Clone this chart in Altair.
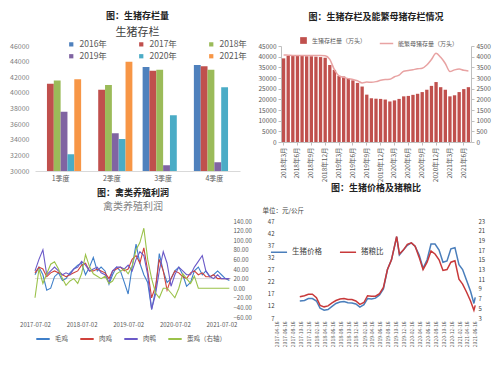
import altair as alt
import pandas as pd

FONT = "Noto Sans CJK SC"

# ---------------- Top-left: 生猪存栏 (quarterly) ----------------
quarters = ["1季度", "2季度", "3季度", "4季度"]
years = ["2016年", "2017年", "2018年", "2019年", "2020年", "2021年"]
inv_2016 = [None, None, 43320, 43560]
inv_2017 = [41170, 40400, 42830, 43400]
inv_2018 = [41580, 41010, 42960, 42960]
inv_2019 = [37570, 34820, 30730, 31130]
inv_2020 = [32150, 34090, 37130, 40730]
inv_2021 = [41740, 43970, None, None]
year_colors = ["#4F81BD", "#C0504D", "#9BBB59", "#8064A2", "#4BACC6", "#F79646"]

rows = []
for yname, vals in zip(years, [inv_2016, inv_2017, inv_2018, inv_2019, inv_2020, inv_2021]):
    for q, v in zip(quarters, vals):
        if v is not None:
            rows.append({"quarter": q, "year": yname, "value": v})
tl_df = pd.DataFrame(rows)

tl = alt.Chart(tl_df).mark_bar(clip=True).encode(
    x=alt.X("quarter:N", sort=quarters,
            scale=alt.Scale(paddingInner=0.2, paddingOuter=0.1),
            axis=alt.Axis(title=None, labelAngle=0, ticks=False, domainColor="#d9d9d9",
                          labelFontSize=7, labelColor="#595959", labelFont=FONT, labelPadding=3)),
    xOffset=alt.XOffset("year:N", sort=years, scale=alt.Scale(domain=years, paddingInner=0)),
    y=alt.Y("value:Q", scale=alt.Scale(domain=[30000, 46000], zero=False, nice=False),
            axis=alt.Axis(title=None, values=list(range(30000, 46001, 2000)), grid=False,
                          domain=False, ticks=False, labelFontSize=7, labelColor="#7f7f7f",
                          format="d", labelPadding=6)),
    color=alt.Color("year:N", sort=years,
                    scale=alt.Scale(domain=years, range=year_colors),
                    legend=alt.Legend(title=None, orient="none", legendX=32, legendY=-6,
                                      direction="horizontal", columns=3, columnPadding=30,
                                      rowPadding=3, symbolType="square", symbolSize=18,
                                      labelFontSize=8.5, labelColor="#595959", labelFont=FONT)),
).properties(
    width=205, height=125,
    title=alt.TitleParams(text="图：生猪存栏量", subtitle="生猪存栏", fontSize=9, subtitleFontSize=11,
                          font=FONT, subtitleFont=FONT, color="#222", subtitleColor="#404040",
                          anchor="middle", subtitlePadding=6, offset=2),
)

# ---------------- Top-right: 生猪存栏及能繁母猪存栏 ----------------
month_labels = []
for y in range(2018, 2022):
    for m in range(1, 13):
        if (y == 2018 and m < 3) or (y == 2021 and m > 7):
            continue
        month_labels.append(f"{y}年{m}月")
hog_inventory = [39200, 40400, 40300, 40300, 40300, 40200, 40200, 40000, 39800, 39500,
                 36100, 33800, 31000, 30700, 29800, 28900, 27700, 26000, 22200, 20500,
                 20300, 20200, 19900, 19000, 19500, 20200, 21400, 21600, 22100, 22600,
                 23400, 24500, 26300, 28100, 25700, 24500, 21400, 21900, 23400, 24800,
                 25700]
sow_inventory = [4080, 4070, 4060, 4060, 4050, 4050, 4050, 4050, 4050, 4040,
                 3870, 3390, 3100, 3030, 2970, 2930, 2870, 2770, 2810, 2800,
                 2830, 2890, 2930, 2940, 3060, 3130, 3320, 3350, 3390, 3430,
                 3460, 3610, 3870, 4160, 3970, 3680, 3300, 3380, 3420, 3360,
                 3330]
tr_df = pd.DataFrame({"month": month_labels, "hog": hog_inventory, "sow": sow_inventory})
tick_months = [m for i, m in enumerate(month_labels) if i % 3 == 0]

tr_x = alt.X("month:N", sort=month_labels, scale=alt.Scale(paddingInner=0.28, paddingOuter=0.2),
             axis=alt.Axis(title=None, values=tick_months, labelAngle=-90, labelFontSize=6.5,
                           labelColor="#595959", domainColor="#bfbfbf", tickColor="#bfbfbf",
                           tickSize=3, labelFont=FONT))
tr_bar = alt.Chart(tr_df).mark_bar(color="#C0504D").encode(
    x=tr_x,
    y=alt.Y("hog:Q", scale=alt.Scale(domain=[0, 45000], nice=False),
            axis=alt.Axis(title=None, values=list(range(0, 45001, 5000)), grid=False,
                          labelFontSize=6.5, labelColor="#595959", domainColor="#bfbfbf",
                          tickColor="#bfbfbf", tickSize=3, format="d")),
    fill=alt.Fill("lbl:N", scale=alt.Scale(range=["#C0504D"]),
                  legend=alt.Legend(title=None, orient="none", legendX=18, legendY=-10,
                                    symbolType="square", symbolSize=45, labelFontSize=6,
                                    labelColor="#595959", labelFont=FONT)),
).transform_calculate(lbl="'生猪存栏量（万头）'")
tr_line = alt.Chart(tr_df).mark_line(interpolate="monotone", strokeWidth=1.5).encode(
    x=tr_x,
    y=alt.Y("sow:Q", scale=alt.Scale(domain=[0, 4500], nice=False),
            axis=alt.Axis(title=None, orient="right", values=list(range(0, 4501, 500)), grid=False,
                          labelFontSize=6.5, labelColor="#595959", domainColor="#bfbfbf",
                          tickColor="#bfbfbf", tickSize=3, format="d")),
    stroke=alt.Stroke("lbl:N", scale=alt.Scale(range=["#E8A3A3"]),
                      legend=alt.Legend(title=None, orient="none", legendX=98, legendY=-10,
                                        symbolType="stroke", symbolSize=180, symbolStrokeWidth=1.5,
                                        labelFontSize=6, labelColor="#595959", labelFont=FONT)),
).transform_calculate(lbl="'能繁母猪存量（万头）'")
tr = alt.layer(tr_bar, tr_line).resolve_scale(y="independent").properties(
    width=190, height=96,
    title=alt.TitleParams(text="图：生猪存栏及能繁母猪存栏情况", fontSize=9, font=FONT,
                          color="#222", anchor="middle", offset=14),
)

# ---------------- Bottom-left: 禽类养殖利润 ----------------
poultry_dates = [f"{2017 + (6 + i) // 12}-{(6 + i) % 12 + 1:02d}-02T00:00:00" for i in range(51)]
broiler_live = [1.0, 3.0, 1.0, -3.0, -2.5, 0.5, 1.5, -0.5, 0.0, 1.5, 2.5, 3.5,
                4.0, 1.0, 3.0, 5.5, 2.0, 3.0, 2.0, -1.5, 1.0, 3.0, 2.0, -1.0,
                -4.0, 3.0, 9.0, 4.0, 1.0, -1.0, -8.0, -3.0, 6.5, 2.0, -1.0, 0.0,
                2.0, 3.0, 1.0, -2.0, -1.0, 2.0, 3.0, 1.0, 2.0, 0.5, 1.0, 2.0,
                1.0, 0.0, -0.5]
broiler_meat = [1.5, 3.0, 2.5, 0.5, 1.5, 2.0, 1.5, 1.0, 0.5, 1.0, 1.5, 2.0,
                3.5, 4.0, 2.0, 2.0, 2.5, 2.0, 1.5, 0.0, 2.0, 2.5, 3.0, 2.0,
                2.5, 5.0, 6.0, 4.0, 8.0, 2.0, -5.0, -2.0, 5.0, 2.0, -3.0, 0.0,
                2.0, 1.5, 0.5, 0.0, 1.5, 2.0, 1.0, 1.5, 0.5, 0.5, 1.0, 0.0,
                0.0, 0.0, 0.0]
duck_meat = [2.0, 5.0, 7.5, 1.0, 2.0, 3.0, 2.0, 1.0, 1.5, 1.0, 2.5, 3.0,
             4.5, 3.5, 2.0, 2.5, 3.0, 1.5, 1.0, -1.0, 2.0, 3.0, 3.0, 2.5,
             3.5, 2.0, 5.0, 7.0, 6.0, 1.0, -8.0, -4.0, 2.0, 7.0, 4.0, -2.0,
             1.0, 3.0, 2.0, 1.0, 1.0, 3.0, 4.5, 6.0, 2.0, 0.5, 0.0, 1.0,
             0.0, 0.0, 0.0]
layer_hen = [-20.0, 40.0, 10.0, 30.0, 50.0, 55.0, 40.0, 20.0, 6.0, 15.0, 20.0, 10.0,
             30.0, 70.0, 45.0, 30.0, 25.0, 20.0, 25.0, 10.0, 15.0, 30.0, 35.0, 40.0,
             30.0, 45.0, 80.0, 95.0, 125.0, 60.0, 20.0, -10.0, -20.0, 0.0, 0.0, -10.0,
             -20.0, 0.0, 30.0, 20.0, 10.0, 25.0, 0.0, 0.0, 0.0, 0.0, 0.0, 0.0,
             0.0, 0.0, 0.0]
poultry_series = ["毛鸡", "肉鸡", "肉鸭", "蛋鸡（右轴）"]
poultry_colors = ["#3F7FC9", "#D0413B", "#6B5AC8", "#9BC24A"]

bl_left_rows = []
for name, vals in zip(poultry_series[:3], [broiler_live, broiler_meat, duck_meat]):
    for d, v in zip(poultry_dates, vals):
        bl_left_rows.append({"date": d, "series": name, "value": v})
bl_left_df = pd.DataFrame(bl_left_rows)
bl_right_df = pd.DataFrame({"date": poultry_dates, "series": poultry_series[3], "value": layer_hen})

bl_x = alt.X("date:T", scale=alt.Scale(domain=["2017-07-02T00:00:00", "2021-09-15T00:00:00"]),
             axis=alt.Axis(title=None, format="%Y-%m-%d", labelFontSize=6, labelColor="#595959",
                           values=[alt.DateTime(year=y, month=7, date=2) for y in range(2017, 2022)],
                           grid=False, domain=False, ticks=False, labelAngle=0, labelOverlap=False,
                           labelFlush=False, labelPadding=4))
bl_color = alt.Color("series:N", scale=alt.Scale(domain=poultry_series, range=poultry_colors),
                     legend=alt.Legend(title=None, orient="bottom", direction="horizontal",
                                       symbolType="stroke", symbolSize=180, symbolStrokeWidth=2,
                                       labelFontSize=6.5, labelColor="#595959", labelFont=FONT,
                                       columnPadding=8, offset=4, padding=0))
bl_zero = alt.Chart(pd.DataFrame({"z": [0]})).mark_rule(color="#d9d9d9", strokeWidth=1).encode(
    y=alt.Y("z:Q", scale=alt.Scale(domain=[-10, 15], nice=False), axis=None))
bl_left = alt.Chart(bl_left_df).mark_line(strokeWidth=1.1).encode(
    x=bl_x,
    y=alt.Y("value:Q", scale=alt.Scale(domain=[-10, 15], nice=False),
            axis=alt.Axis(title=None, values=[-10, -5, 0, 5, 10, 15], format=".2f", grid=False,
                          domain=False, ticks=False, labelFontSize=6, labelColor="#595959")),
    color=bl_color, detail="series:N",
)
bl_right = alt.Chart(bl_right_df).mark_line(strokeWidth=1.1).encode(
    x=bl_x,
    y=alt.Y("value:Q", scale=alt.Scale(domain=[-60, 140], nice=False),
            axis=alt.Axis(title=None, orient="right", values=list(range(-60, 141, 20)), format=".2f",
                          grid=False, domain=False, ticks=False, labelFontSize=6, labelColor="#595959")),
    color=bl_color,
)
bl = alt.layer(alt.layer(bl_zero, bl_left), bl_right).resolve_scale(y="independent").properties(
    width=196, height=96,
    title=alt.TitleParams(text="图：禽类养殖利润", subtitle="禽类养殖利润", fontSize=9,
                          subtitleFontSize=10, font=FONT, subtitleFont=FONT, color="#222",
                          subtitleColor="#7f7f7f", anchor="middle", subtitlePadding=4, offset=6),
)

# ---------------- Bottom-right: 生猪价格及猪粮比 ----------------
price_dates = ["2017-10-10", "2017-11-15", "2017-12-15", "2018-01-15", "2018-02-15", "2018-03-15",
               "2018-04-15", "2018-05-15", "2018-06-15", "2018-07-15", "2018-08-15", "2018-09-15",
               "2018-10-15", "2018-11-15", "2018-12-15", "2019-01-15", "2019-02-15", "2019-03-15",
               "2019-04-15", "2019-05-15", "2019-06-15", "2019-07-15", "2019-08-15", "2019-09-15",
               "2019-10-25", "2019-11-15", "2019-12-15", "2020-01-15", "2020-02-15", "2020-03-15",
               "2020-04-15", "2020-05-15", "2020-06-15", "2020-07-15", "2020-08-15", "2020-09-15",
               "2020-10-15", "2020-11-15", "2020-12-15", "2021-01-15", "2021-02-15", "2021-03-15",
               "2021-04-15", "2021-05-15", "2021-06-10", "2021-06-20"]
hog_price = [14.0, 14.2, 15.0, 15.0, 14.0, 11.0, 10.2, 10.5, 11.8, 13.0, 13.6, 13.8,
             13.3, 13.2, 12.8, 11.5, 12.5, 15.0, 14.8, 15.2, 16.5, 19.0, 27.0, 31.0,
             40.5, 33.0, 35.0, 37.0, 38.0, 36.5, 33.0, 27.5, 31.0, 37.5, 37.5, 35.0,
             30.0, 30.5, 35.5, 36.0, 29.0, 27.0, 22.5, 18.0, 13.0, 15.5]
hog_grain_ratio = [7.4, 7.6, 7.9, 7.9, 7.2, 5.6, 5.3, 5.5, 6.1, 6.6, 6.9, 7.0,
                   6.8, 6.8, 6.5, 5.8, 6.2, 7.6, 7.5, 7.5, 8.0, 9.3, 13.0, 15.0,
                   19.8, 16.2, 17.0, 18.2, 18.5, 17.8, 15.5, 13.0, 14.5, 16.8, 16.2, 15.0,
                   12.8, 13.0, 14.5, 14.8, 11.0, 10.0, 8.3, 6.5, 4.6, 5.6]
price_names = ["生猪价格", "猪粮比"]
price_colors = ["#4A7EBB", "#C8393A"]
br_df = pd.DataFrame({"date": [d + "T00:00:00" for d in price_dates],
                      "price": hog_price, "ratio": hog_grain_ratio})
br_tick_dates = []
for i in range(26):
    mm = 4 + 2 * i
    br_tick_dates.append(alt.DateTime(year=2017 + (mm - 1) // 12, month=(mm - 1) % 12 + 1, date=16))

br_x = alt.X("date:T", scale=alt.Scale(domain=["2017-04-10T00:00:00", "2021-06-26T00:00:00"]),
             axis=alt.Axis(title=None, format="%Y-%m-%d", values=br_tick_dates, labelAngle=-90,
                           labelFontSize=5, labelColor="#595959", grid=False, domain=False,
                           ticks=False, labelOverlap=False, labelPadding=3))
br_color = alt.Color("name:N", scale=alt.Scale(domain=price_names, range=price_colors),
                     legend=alt.Legend(title=None, orient="none", legendX=-6, legendY=22,
                                       direction="horizontal", symbolType="stroke", symbolSize=260,
                                       symbolStrokeWidth=1.5, columnPadding=14, labelFontSize=7.5,
                                       labelColor="#404040", labelFont=FONT))
br_price = alt.Chart(br_df).mark_line(strokeWidth=1.5).encode(
    x=br_x,
    y=alt.Y("price:Q", scale=alt.Scale(domain=[7, 47], nice=False),
            axis=alt.Axis(title="单位：元/公斤", titleAngle=0, titleAlign="left", titleX=-14,
                          titleY=-8, titleFontSize=6.5, titleFontWeight="normal", titleFont=FONT,
                          titleColor="#404040", values=list(range(7, 48, 5)), grid=False,
                          domain=False, ticks=False, labelFontSize=6, labelColor="#404040")),
    color=br_color,
).transform_calculate(name="'生猪价格'")
br_ratio = alt.Chart(br_df).mark_line(strokeWidth=1.5).encode(
    x=br_x,
    y=alt.Y("ratio:Q", scale=alt.Scale(domain=[3, 23], nice=False),
            axis=alt.Axis(title=None, orient="right", values=list(range(3, 24, 2)), grid=False,
                          domain=False, ticks=False, labelFontSize=6, labelColor="#404040")),
    color=br_color,
).transform_calculate(name="'猪粮比'")
br = alt.layer(br_price, br_ratio).resolve_scale(y="independent").properties(
    width=200, height=97,
    title=alt.TitleParams(text="图：生猪价格及猪粮比", fontSize=9, font=FONT, color="#222",
                          anchor="middle", offset=14),
)

top = alt.hconcat(tl, tr, spacing=10).resolve_scale(color="independent", fill="independent",
                                                    stroke="independent", x="independent",
                                                    y="independent")
bottom = alt.hconcat(bl, br, spacing=10).resolve_scale(color="independent", x="independent",
                                                       y="independent")
chart = alt.vconcat(top, bottom, spacing=2).resolve_scale(
    color="independent", fill="independent", stroke="independent", x="independent", y="independent"
).configure(
    font=FONT, background="white",
    padding={"left": 1, "right": 1, "top": 4, "bottom": 0},
).configure_view(stroke=None)

chart.save("out.html", embed_options={"renderer": "svg", "actions": False})
